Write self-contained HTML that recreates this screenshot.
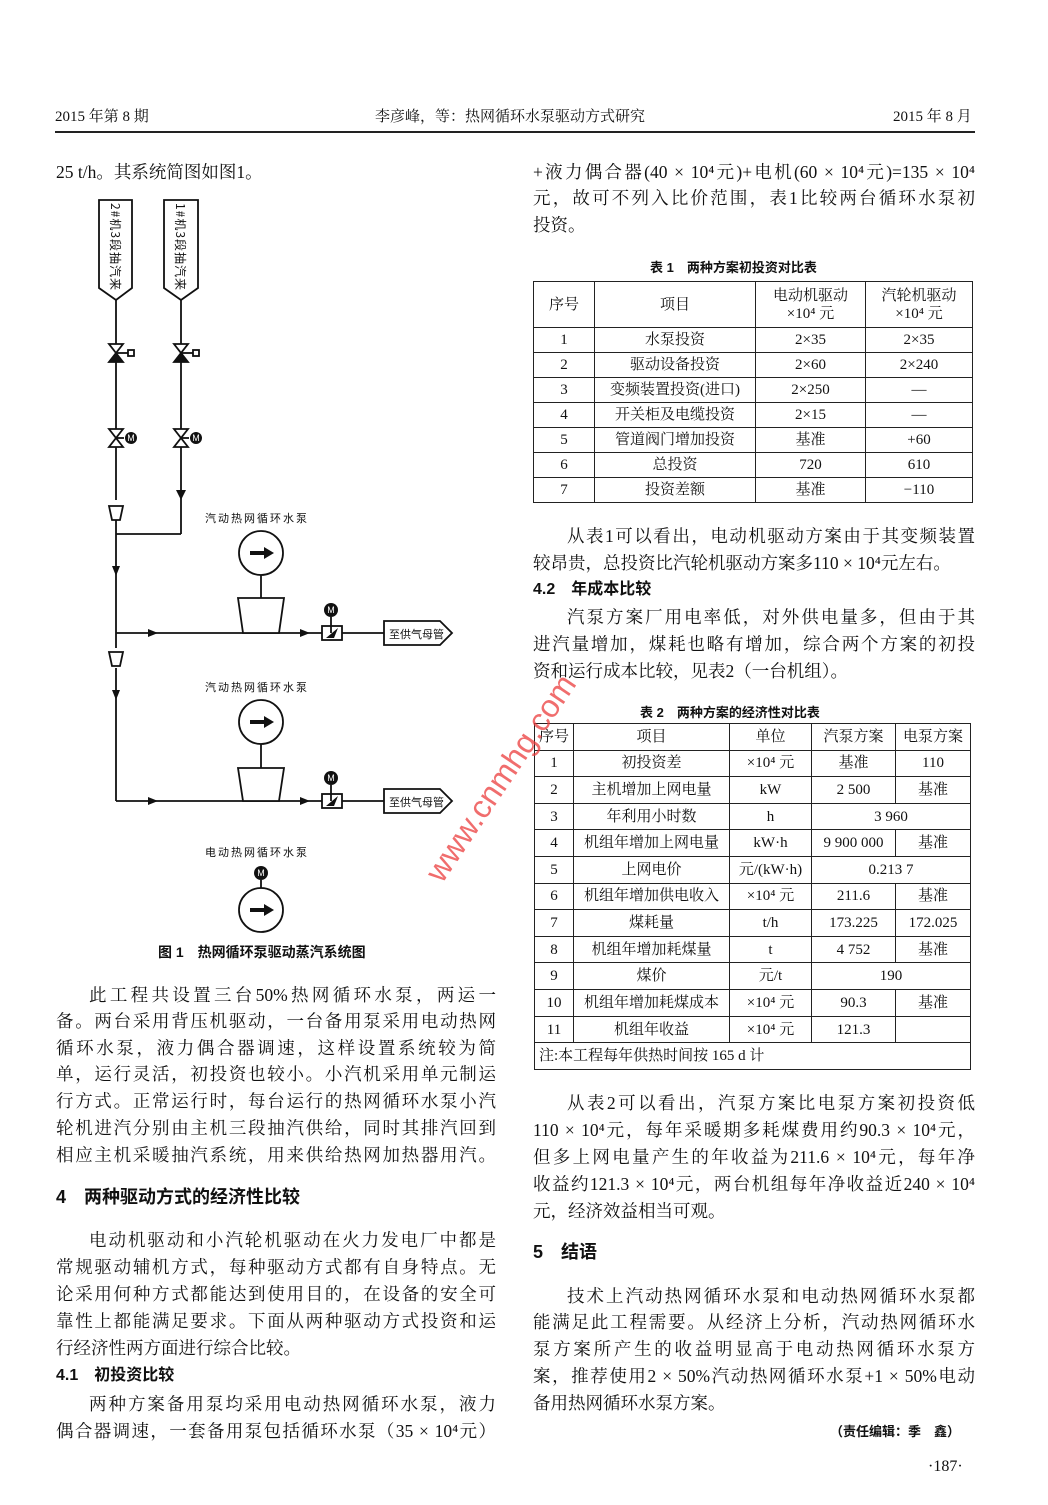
<!DOCTYPE html>
<html><head><meta charset="utf-8">
<style>
body{margin:0;background:#fff;}
#p{position:relative;width:1048px;height:1505px;overflow:hidden;background:#fff;color:#111;font-family:"Liberation Serif","Noto Serif CJK SC","Noto Sans CJK SC",serif;}
.t{position:absolute;font-size:17.5px;line-height:22px;white-space:nowrap;}
.j{text-align:justify;text-align-last:justify;white-space:normal;height:22px;overflow:hidden;}
.L{left:56px;width:440px;}
.Li{left:89px;width:407px;}
.R{left:533px;width:442px;}
.Ri{left:567px;width:408px;}
.b{font-weight:bold;font-family:"Liberation Sans","Noto Sans CJK SC",sans-serif;}
table{position:absolute;border-collapse:collapse;font-size:15px;font-family:"Liberation Serif","Noto Serif CJK SC",serif;}
td{border:1.5px solid #222;text-align:center;padding:0;line-height:18px}
.d{position:absolute;font-size:11px;font-family:"Liberation Sans","Noto Sans CJK SC",sans-serif;white-space:nowrap;letter-spacing:2px}
</style></head><body><div id="p">

<div class="t" style="left:55px;top:106px;font-size:15px">2015 年第 8 期</div>
<div class="t" style="left:375px;top:106px;font-size:15px">李彦峰，等：热网循环水泵驱动方式研究</div>
<div class="t" style="left:893px;top:106px;font-size:15px">2015 年 8 月</div>
<div style="position:absolute;left:55px;top:131px;width:920px;height:1.5px;background:#222"></div>

<div class="t" style="left:56px;top:161px">25 t/h。其系统简图如图1。</div>

<svg style="position:absolute;left:0;top:0" width="520" height="960" viewBox="0 0 520 960">
<g stroke="#111" stroke-width="1.8" fill="none">
<path d="M99 200 H132 V288 L116 300 L99 288 Z" fill="#fff"/>
<path d="M164 200 H198 V288 L181 300 L164 288 Z" fill="#fff"/>
<line x1="116" y1="300" x2="116" y2="500"/>
<line x1="181" y1="300" x2="181" y2="534"/>
<line x1="116" y1="520" x2="116" y2="648"/>
<line x1="116" y1="534" x2="181" y2="534"/>
<line x1="116" y1="668" x2="116" y2="801"/>
<line x1="116" y1="633" x2="384" y2="633"/>
<line x1="116" y1="801" x2="384" y2="801"/>
<path d="M109 506 H123 L120 520 H112 Z" fill="#fff"/>
<path d="M109 652 H123 L120 666 H112 Z" fill="#fff"/>
<path d="M384 621 H440 L452 633 L440 645 H384 Z" fill="#fff"/>
<path d="M384 789 H440 L452 801 L440 813 H384 Z" fill="#fff"/>
<circle cx="261" cy="553" r="22"/><line x1="261" y1="575" x2="261" y2="598"/>
<path d="M238 598 H284 L279 633 H243 Z" fill="#fff"/>
<circle cx="261" cy="722" r="22"/><line x1="261" y1="744" x2="261" y2="768"/>
<path d="M238 768 H284 L279 801 H243 Z" fill="#fff"/>
<circle cx="261" cy="910" r="22"/><line x1="261" y1="880" x2="261" y2="888"/>
<rect x="322" y="626" width="20" height="14" fill="#fff"/>
<rect x="322" y="794" width="20" height="14" fill="#fff"/>
<line x1="331" y1="617" x2="331" y2="633"/><line x1="331" y1="785" x2="331" y2="801"/>
<path d="M109 344 L123 344 L109 362 L123 362 Z" fill="#fff"/><line x1="116" y1="353" x2="128" y2="353"/><rect x="128" y="350" width="6" height="6"/>
<path d="M174 344 L188 344 L174 362 L188 362 Z" fill="#fff"/><line x1="181" y1="353" x2="193" y2="353"/><rect x="193" y="350" width="6" height="6"/>
<path d="M109 429 L123 429 L109 447 L123 447 Z" fill="#fff"/><line x1="116" y1="438" x2="124" y2="438"/>
<path d="M174 429 L188 429 L174 447 L188 447 Z" fill="#fff"/><line x1="181" y1="438" x2="189" y2="438"/>
</g>
<g fill="#111">
<path d="M116 353 L109 362 H123 Z"/><path d="M181 353 L174 362 H188 Z"/>
<circle cx="131" cy="438" r="6"/><circle cx="196" cy="438" r="6"/>
<circle cx="331" cy="610" r="7"/><circle cx="331" cy="778" r="7"/><circle cx="261" cy="873" r="7"/>
<path d="M176 490 L186 490 L181 500 Z"/>
<path d="M112 566 L120 566 L116 576 Z"/><path d="M112 690 L120 690 L116 700 Z"/>
<path d="M148 629 L158 633 L148 637 Z"/><path d="M300 629 L310 633 L300 637 Z"/>
<path d="M148 797 L158 801 L148 805 Z"/><path d="M300 797 L310 801 L300 805 Z"/>
<path d="M250 551 H264 V547 L274 553 L264 559 V555 H250 Z"/>
<path d="M250 720 H264 V716 L274 722 L264 728 V724 H250 Z"/>
<path d="M250 908 H264 V904 L274 910 L264 916 V912 H250 Z"/>
<path d="M326 638 L338 628 L334 638 Z"/><path d="M326 806 L338 796 L334 806 Z"/>
</g>
<g fill="#fff" font-size="9" font-family="Liberation Sans" text-anchor="middle"><text x="131" y="441">M</text><text x="196" y="441">M</text><text x="331" y="613">M</text><text x="331" y="781">M</text><text x="261" y="876">M</text></g>
<g font-size="12" font-family="Noto Sans CJK SC,sans-serif" fill="#111">
<text transform="translate(111,203) rotate(90)" letter-spacing="1">2#机3段抽汽来</text>
<text transform="translate(176,203) rotate(90)" letter-spacing="1">1#机3段抽汽来</text>
<text x="389" y="638" font-size="11">至供气母管</text>
<text x="389" y="806" font-size="11">至供气母管</text>
</g>
</svg>
<div class="d" style="left:205px;top:510px">汽动热网循环水泵</div>
<div class="d" style="left:205px;top:679px">汽动热网循环水泵</div>
<div class="d" style="left:205px;top:844px">电动热网循环水泵</div>
<div class="t b" style="left:158px;top:941px;font-size:14px">图 1　热网循环泵驱动蒸汽系统图</div>

<div class="t j Li" style="top:984px">此工程共设置三台50%热网循环水泵，两运一</div>
<div class="t j L" style="top:1010px">备。两台采用背压机驱动，一台备用泵采用电动热网</div>
<div class="t j L" style="top:1037px">循环水泵，液力偶合器调速，这样设置系统较为简</div>
<div class="t j L" style="top:1063px">单，运行灵活，初投资也较小。小汽机采用单元制运</div>
<div class="t j L" style="top:1090px">行方式。正常运行时，每台运行的热网循环水泵小汽</div>
<div class="t j L" style="top:1117px">轮机进汽分别由主机三段抽汽供给，同时其排汽回到</div>
<div class="t j L" style="top:1144px">相应主机采暖抽汽系统，用来供给热网加热器用汽。</div>
<div class="t b" style="left:56px;top:1186px;font-size:18px">4　两种驱动方式的经济性比较</div>
<div class="t j Li" style="top:1229px">电动机驱动和小汽轮机驱动在火力发电厂中都是</div>
<div class="t j L" style="top:1256px">常规驱动辅机方式，每种驱动方式都有自身特点。无</div>
<div class="t j L" style="top:1283px">论采用何种方式都能达到使用目的，在设备的安全可</div>
<div class="t j L" style="top:1310px">靠性上都能满足要求。下面从两种驱动方式投资和运</div>
<div class="t" style="left:56px;top:1337px">行经济性两方面进行综合比较。</div>
<div class="t b" style="left:56px;top:1365px;font-size:16px">4.1　初投资比较</div>
<div class="t j Li" style="top:1393px">两种方案备用泵均采用电动热网循环水泵，液力</div>
<div class="t j L" style="top:1420px">偶合器调速，一套备用泵包括循环水泵（35 × 10⁴元）</div>

<div class="t j R" style="top:161px">+液力偶合器(40 × 10⁴元)+电机(60 × 10⁴元)=135 × 10⁴</div>
<div class="t j R" style="top:187px">元，故可不列入比价范围，表1比较两台循环水泵初</div>
<div class="t" style="left:533px;top:214px">投资。</div>
<div class="t b" style="left:650px;top:257px;font-size:13px">表 1　两种方案初投资对比表</div>
<table style="left:533px;top:281px;width:440px;height:222px">
<tr style="height:46px"><td style="width:60px">序号</td><td style="width:160px">项目</td><td style="width:109px">电动机驱动<br>×10⁴ 元</td><td>汽轮机驱动<br>×10⁴ 元</td></tr>
<tr><td>1</td><td>水泵投资</td><td>2×35</td><td>2×35</td></tr>
<tr><td>2</td><td>驱动设备投资</td><td>2×60</td><td>2×240</td></tr>
<tr><td>3</td><td>变频装置投资(进口)</td><td>2×250</td><td>—</td></tr>
<tr><td>4</td><td>开关柜及电缆投资</td><td>2×15</td><td>—</td></tr>
<tr><td>5</td><td>管道阀门增加投资</td><td>基准</td><td>+60</td></tr>
<tr><td>6</td><td>总投资</td><td>720</td><td>610</td></tr>
<tr><td>7</td><td>投资差额</td><td>基准</td><td>−110</td></tr>
</table>
<div class="t j Ri" style="top:525px">从表1可以看出，电动机驱动方案由于其变频装置</div>
<div class="t" style="left:533px;top:552px">较昂贵，总投资比汽轮机驱动方案多110 × 10⁴元左右。</div>
<div class="t b" style="left:533px;top:579px;font-size:16px">4.2　年成本比较</div>
<div class="t j Ri" style="top:606px">汽泵方案厂用电率低，对外供电量多，但由于其</div>
<div class="t j R" style="top:633px">进汽量增加，煤耗也略有增加，综合两个方案的初投</div>
<div class="t" style="left:533px;top:660px">资和运行成本比较，见表2（一台机组）。</div>
<div class="t b" style="left:640px;top:702px;font-size:13px">表 2　两种方案的经济性对比表</div>
<table style="left:534px;top:723px;width:437px;height:347px">
<tr><td style="width:38px">序号</td><td style="width:155px">项目</td><td style="width:81px">单位</td><td style="width:83px">汽泵方案</td><td>电泵方案</td></tr>
<tr><td>1</td><td>初投资差</td><td>×10⁴ 元</td><td>基准</td><td>110</td></tr>
<tr><td>2</td><td>主机增加上网电量</td><td>kW</td><td>2 500</td><td>基准</td></tr>
<tr><td>3</td><td>年利用小时数</td><td>h</td><td colspan="2">3 960</td></tr>
<tr><td>4</td><td>机组年增加上网电量</td><td>kW·h</td><td>9 900 000</td><td>基准</td></tr>
<tr><td>5</td><td>上网电价</td><td>元/(kW·h)</td><td colspan="2">0.213 7</td></tr>
<tr><td>6</td><td>机组年增加供电收入</td><td>×10⁴ 元</td><td>211.6</td><td>基准</td></tr>
<tr><td>7</td><td>煤耗量</td><td>t/h</td><td>173.225</td><td>172.025</td></tr>
<tr><td>8</td><td>机组年增加耗煤量</td><td>t</td><td>4 752</td><td>基准</td></tr>
<tr><td>9</td><td>煤价</td><td>元/t</td><td colspan="2">190</td></tr>
<tr><td>10</td><td>机组年增加耗煤成本</td><td>×10⁴ 元</td><td>90.3</td><td>基准</td></tr>
<tr><td>11</td><td>机组年收益</td><td>×10⁴ 元</td><td>121.3</td><td></td></tr>
<tr><td colspan="5" style="text-align:left;padding-left:4px">注:本工程每年供热时间按 165 d 计</td></tr>
</table>
<div class="t j Ri" style="top:1092px">从表2可以看出，汽泵方案比电泵方案初投资低</div>
<div class="t j R" style="top:1119px">110 × 10⁴元，每年采暖期多耗煤费用约90.3 × 10⁴元，</div>
<div class="t j R" style="top:1146px">但多上网电量产生的年收益为211.6 × 10⁴元，每年净</div>
<div class="t j R" style="top:1173px">收益约121.3 × 10⁴元，两台机组每年净收益近240 × 10⁴</div>
<div class="t" style="left:533px;top:1200px">元，经济效益相当可观。</div>
<div class="t b" style="left:533px;top:1241px;font-size:18px">5　结语</div>
<div class="t j Ri" style="top:1285px">技术上汽动热网循环水泵和电动热网循环水泵都</div>
<div class="t j R" style="top:1311px">能满足此工程需要。从经济上分析，汽动热网循环水</div>
<div class="t j R" style="top:1338px">泵方案所产生的收益明显高于电动热网循环水泵方</div>
<div class="t j R" style="top:1365px">案，推荐使用2 × 50%汽动热网循环水泵+1 × 50%电动</div>
<div class="t" style="left:533px;top:1392px">备用热网循环水泵方案。</div>
<div class="t b" style="left:830px;top:1421px;font-size:13px">（责任编辑：季　鑫）</div>
<div class="t" style="left:928px;top:1456px;font-size:16px">·187·</div>

<div style="position:absolute;font-size:32px;color:rgba(235,60,60,0.75);font-family:'Liberation Sans',sans-serif;transform:rotate(-56deg);transform-origin:left top;white-space:nowrap;top:868px;left:418px">www.cnmhg.com</div>
</div></body></html>
